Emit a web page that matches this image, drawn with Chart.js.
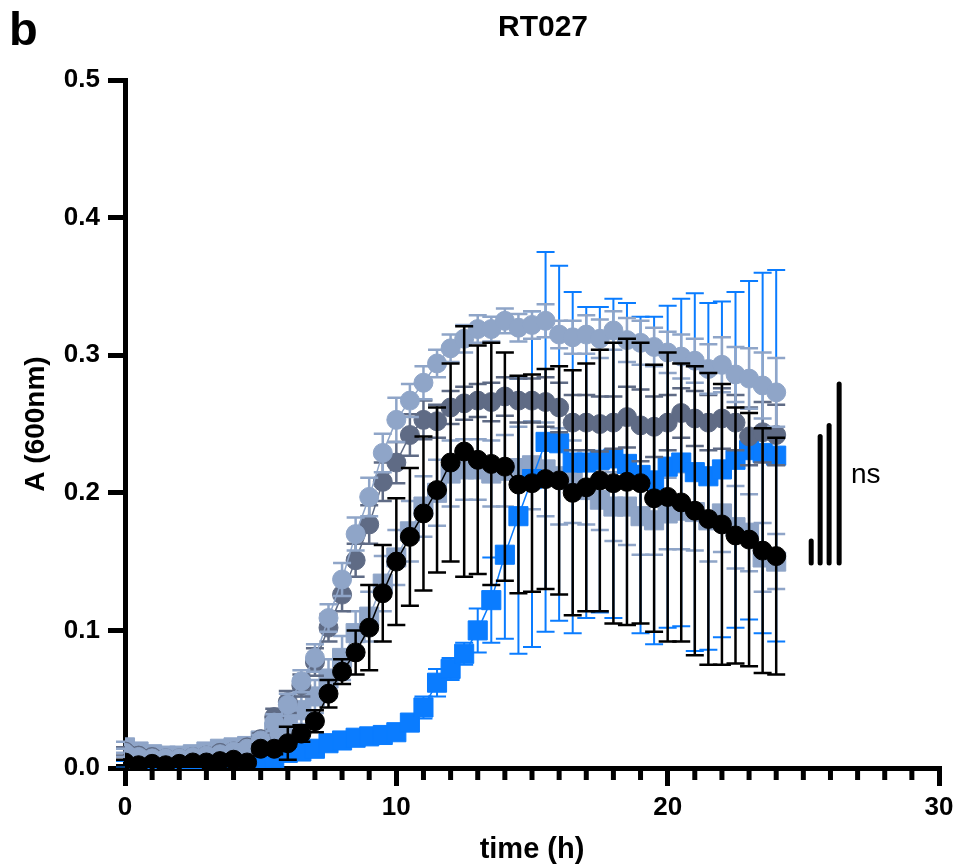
<!DOCTYPE html>
<html>
<head>
<meta charset="utf-8">
<script src="https://cdn.jsdelivr.net/npm/chart.js@4.4.1/dist/chart.umd.min.js"></script>
<style>
  body { margin: 0; background: #fff; }
  #wrap { width: 957px; height: 868px; position: relative; }
</style>
</head>
<body>
<div id="wrap"><canvas id="growth"></canvas></div>
<script>
// time points (h)
const times = [0,0.5,1,1.5,2,2.5,3,3.5,4,4.5,5,5.5,6,6.5,7,7.5,8,8.5,9,9.5,
  10,10.5,11,11.5,12,12.5,13,13.5,14,14.5,15,15.5,16,16.5,17,17.5,18,18.5,19,19.5,
  20,20.5,21,21.5,22,22.5,23,23.5,24];

// black circles
const blackVals = [0.004,0.002,0.003,0.002,0.003,0.004,0.004,0.005,0.006,0.004,
  0.014,0.014,0.018,0.025,0.034,0.054,0.070,0.084,0.102,0.127,
  0.150,0.168,0.185,0.202,0.222,0.230,0.224,0.221,0.219,0.206,
  0.207,0.210,0.209,0.200,0.204,0.209,0.207,0.208,0.207,0.196,
  0.197,0.193,0.187,0.181,0.177,0.169,0.166,0.158,0.154];
const blackErr = [0.002,0.002,0.002,0.002,0.002,0.002,0.002,0.002,0.002,0.002,
  0.003,0.004,0.012,0.006,0.008,0.010,0.009,0.016,0.031,0.035,
  0.046,0.050,0.056,0.060,0.072,0.091,0.083,0.088,0.083,0.079,
  0.079,0.080,0.083,0.089,0.090,0.095,0.102,0.104,0.102,0.097,
  0.105,0.101,0.105,0.106,0.102,0.093,0.092,0.089,0.086];

// light grey-blue circles
const lightVals = [0.011,0.008,0.007,0.007,0.007,0.008,0.009,0.010,0.012,0.014,
  0.020,0.033,0.046,0.063,0.080,0.109,0.137,0.170,0.197,0.229,
  0.253,0.267,0.280,0.294,0.305,0.312,0.319,0.319,0.325,0.320,
  0.322,0.325,0.315,0.313,0.315,0.312,0.318,0.311,0.309,0.306,
  0.302,0.299,0.296,0.290,0.293,0.286,0.283,0.278,0.273];
const lightErr = [0.003,0.002,0.002,0.002,0.002,0.002,0.002,0.002,0.003,0.003,
  0.004,0.006,0.008,0.008,0.010,0.010,0.012,0.012,0.014,0.014,
  0.016,0.012,0.012,0.010,0.010,0.010,0.010,0.009,0.009,0.010,
  0.010,0.012,0.010,0.012,0.014,0.014,0.014,0.016,0.016,0.014,
  0.015,0.016,0.016,0.018,0.020,0.020,0.022,0.024,0.025];

// dark slate circles
const darkVals = [0.012,0.009,0.008,0.007,0.007,0.008,0.009,0.011,0.012,0.015,
  0.021,0.037,0.048,0.060,0.077,0.102,0.126,0.151,0.177,0.208,
  0.222,0.242,0.253,0.252,0.262,0.265,0.267,0.266,0.270,0.267,
  0.267,0.266,0.262,0.251,0.251,0.250,0.251,0.255,0.249,0.248,
  0.251,0.258,0.254,0.251,0.254,0.251,0.241,0.244,0.242];
const darkErr = [0.003,0.002,0.002,0.002,0.002,0.002,0.002,0.002,0.003,0.003,
  0.004,0.006,0.008,0.008,0.010,0.010,0.012,0.012,0.014,0.014,
  0.015,0.015,0.014,0.012,0.012,0.012,0.012,0.014,0.014,0.016,
  0.016,0.018,0.018,0.020,0.020,0.020,0.019,0.022,0.026,0.022,
  0.020,0.018,0.020,0.020,0.022,0.020,0.021,0.022,0.022];

// bright blue squares
const blueVals = [0.003,0.002,0.002,0.002,0.002,0.002,0.003,0.003,0.003,0.003,
  0.004,0.007,0.011,0.012,0.014,0.018,0.020,0.022,0.023,0.024,
  0.026,0.033,0.044,0.062,0.072,0.083,0.100,0.122,0.155,0.183,
  0.210,0.237,0.236,0.222,0.222,0.224,0.225,0.221,0.213,0.209,
  0.219,0.222,0.215,0.212,0.217,0.224,0.231,0.229,0.227];
const blueErr = [0.002,0.002,0.002,0.002,0.002,0.002,0.002,0.002,0.002,0.002,
  0.002,0.002,0.002,0.003,0.004,0.004,0.004,0.004,0.004,0.004,
  0.005,0.005,0.008,0.010,0.008,0.008,0.016,0.031,0.061,0.100,
  0.122,0.138,0.129,0.124,0.113,0.111,0.116,0.117,0.115,0.119,
  0.117,0.119,0.130,0.126,0.122,0.122,0.123,0.131,0.135];

// light grey-blue squares
const squareVals = [0.015,0.012,0.010,0.009,0.009,0.010,0.012,0.014,0.015,0.016,
  0.020,0.026,0.033,0.042,0.052,0.065,0.080,0.098,0.110,0.134,
  0.153,0.172,0.190,0.200,0.214,0.217,0.217,0.214,0.216,0.218,
  0.220,0.217,0.212,0.208,0.202,0.195,0.190,0.190,0.183,0.180,
  0.185,0.187,0.186,0.180,0.185,0.175,0.171,0.153,0.150];
const squareErr = [0.004,0.003,0.003,0.003,0.003,0.003,0.003,0.003,0.003,0.004,
  0.004,0.006,0.008,0.010,0.012,0.014,0.016,0.016,0.018,0.020,
  0.020,0.022,0.022,0.024,0.024,0.022,0.022,0.024,0.026,0.030,
  0.032,0.034,0.035,0.030,0.025,0.022,0.025,0.028,0.028,0.025,
  0.026,0.028,0.028,0.030,0.028,0.030,0.028,0.025,0.020];

// "ns" comparison bars: x position, bottom and top
const nsX = [25.29, 25.62, 25.95, 26.32];
const nsBottom = [0.149, 0.149, 0.149, 0.149];
const nsTop = [0.165, 0.241, 0.249, 0.279];

const xTicks = [0, 10, 20, 30];
const yTicks = [0, 0.1, 0.2, 0.3, 0.4, 0.5];

const LIGHT = '#8FA5C8';
const DARK = '#5F6B85';
const BLUE = '#0A7CFF';

function pts(vals) {
  return vals.map((v, i) => ({ x: times[i], y: v }));
}

function series(vals, errs, color, style, radius, errWidth) {
  return {
    data: pts(vals),
    errors: errs,
    errWidth: errWidth,
    borderColor: color,
    backgroundColor: color,
    pointBackgroundColor: color,
    pointBorderColor: color,
    pointBorderWidth: 1,
    pointStyle: style,
    pointRadius: radius,
    pointHoverRadius: radius,
    borderWidth: 1.5,
    tension: 0
  };
}

const datasets = [
  series(blackVals, blackErr, '#000000', 'circle', 9.5, 2.5),
  series(lightVals, lightErr, LIGHT, 'circle', 9.5, 2.5),
  series(darkVals, darkErr, DARK, 'circle', 9.5, 2.5),
  series(blueVals, blueErr, BLUE, 'rect', 13.5, 2),
  series(squareVals, squareErr, LIGHT, 'rect', 13.5, 2.5)
];

nsX.forEach((x, i) => {
  datasets.push({
    data: [{ x: x, y: nsBottom[i] }, { x: x, y: nsTop[i] }],
    borderColor: '#000',
    borderWidth: 5,
    borderCapStyle: 'round',
    pointRadius: 0,
    pointHoverRadius: 0
  });
});

// draws each dataset's error bars just before the dataset itself
const errorBars = {
  id: 'errorBars',
  beforeDatasetDraw(chart, args) {
    const ds = chart.data.datasets[args.index];
    if (!ds.errors) return;
    const { ctx } = chart;
    const xs = chart.scales.x, ys = chart.scales.y;
    ctx.save();
    ctx.strokeStyle = ds.borderColor;
    ctx.lineWidth = ds.errWidth;
    ds.data.forEach((p, i) => {
      const e = ds.errors[i];
      const px = xs.getPixelForValue(p.x);
      const top = ys.getPixelForValue(p.y + e);
      const bot = ys.getPixelForValue(p.y - e);
      ctx.beginPath();
      ctx.moveTo(px, top); ctx.lineTo(px, bot);
      ctx.moveTo(px - 9, top); ctx.lineTo(px + 9, top);
      ctx.moveTo(px - 9, bot); ctx.lineTo(px + 9, bot);
      ctx.stroke();
    });
    ctx.restore();
  }
};

// minor ticks on the time axis, title, panel letter and "ns"
const extras = {
  id: 'extras',
  afterDraw(chart) {
    const { ctx } = chart;
    const xs = chart.scales.x, ys = chart.scales.y;
    ctx.save();
    ctx.strokeStyle = '#000';
    ctx.lineWidth = 5;
    const y0 = ys.getPixelForValue(0);
    for (let t = 1; t < 30; t++) {
      if (t % 10 === 0) continue;
      const px = xs.getPixelForValue(t);
      ctx.beginPath();
      ctx.moveTo(px, y0);
      ctx.lineTo(px, y0 + 12);
      ctx.stroke();
    }
    ctx.fillStyle = '#000';
    ctx.font = 'bold 30px "Liberation Sans", Arial, sans-serif';
    ctx.textAlign = 'center';
    ctx.textBaseline = 'middle';
    ctx.fillText('RT027', 543, 28);
    ctx.font = 'bold 47px "Liberation Sans", Arial, sans-serif';
    ctx.textAlign = 'left';
    ctx.textBaseline = 'alphabetic';
    ctx.fillText('b', 9, 45);
    ctx.font = '28px "Liberation Sans", Arial, sans-serif';
    ctx.textAlign = 'center';
    ctx.textBaseline = 'middle';
    ctx.fillText('ns', xs.getPixelForValue(27.3), ys.getPixelForValue(0.213));
    ctx.restore();
  }
};

const font = '"Liberation Sans", Arial, sans-serif';

new Chart(document.getElementById('growth'), {
  type: 'line',
  data: { datasets: datasets },
  options: {
    responsive: true,
    maintainAspectRatio: false,
    animation: false,
    layout: { padding: { top: 80, right: 18 } },
    plugins: {
      legend: { display: false },
      tooltip: { enabled: false },
      title: { display: false }
    },
    scales: {
      x: {
        type: 'linear',
        min: 0,
        max: 30,
        afterFit: (s) => { s.height = 100; s.paddingRight = 0; },
        afterBuildTicks: (s) => { s.ticks = xTicks.map(v => ({ value: v })); },
        ticks: {
          color: '#000',
          font: { family: font, size: 26, weight: 'bold' },
          padding: 6,
          maxRotation: 0
        },
        grid: { drawOnChartArea: false, color: '#000', lineWidth: 5, tickLength: 18 },
        border: { color: '#000', width: 5 },
        title: {
          display: true,
          text: 'time (h)',
          color: '#000',
          font: { family: font, size: 29, weight: 'bold' },
          padding: { top: 0, bottom: 1 }
        }
      },
      y: {
        min: 0,
        max: 0.5,
        afterFit: (s) => { s.width = 125; },
        afterBuildTicks: (s) => { s.ticks = yTicks.map(v => ({ value: v })); },
        ticks: {
          color: '#000',
          font: { family: font, size: 26, weight: 'bold' },
          padding: 8,
          callback: (v) => v.toFixed(1)
        },
        grid: { drawOnChartArea: false, color: '#000', lineWidth: 5, tickLength: 17 },
        border: { color: '#000', width: 5 },
        title: {
          display: true,
          text: 'A (600nm)',
          color: '#000',
          font: { family: font, size: 28, weight: 'bold' },
          padding: { top: 19, bottom: 0 }
        }
      }
    }
  },
  plugins: [errorBars, extras]
});
</script>
</body>
</html>
